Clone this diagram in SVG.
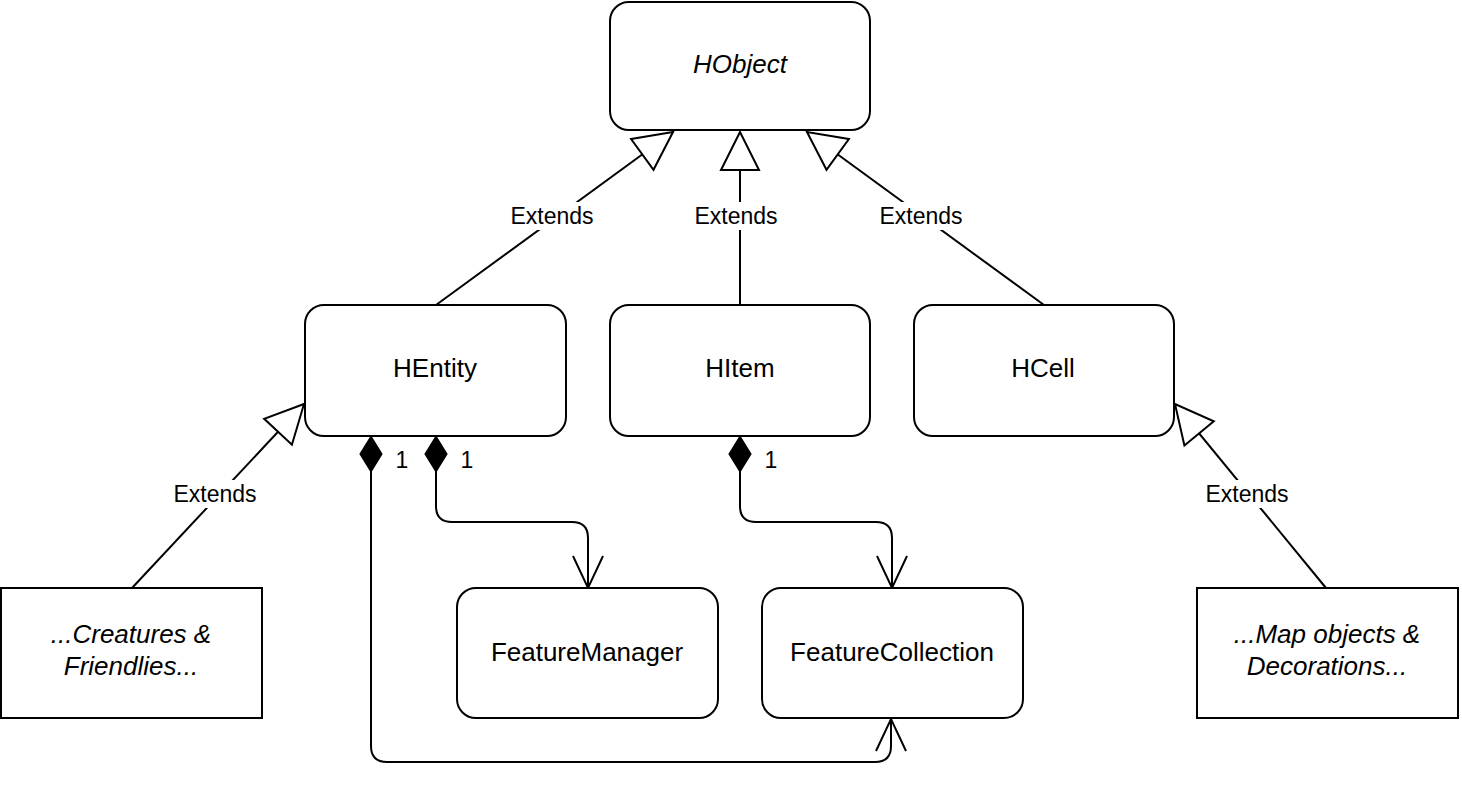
<svg xmlns="http://www.w3.org/2000/svg" width="1462" height="805" viewBox="0 0 1462 805">
<defs>
<style>
.node{fill:#fff;stroke:#000;stroke-width:2}
.t{font-family:"Liberation Sans",Arial,Helvetica,sans-serif;font-size:26px;fill:#000;text-anchor:middle;dominant-baseline:central}
.i{font-style:italic}
.e{fill:none;stroke:#000;stroke-width:2}
.lbl{font-family:"Liberation Sans",Arial,Helvetica,sans-serif;font-size:23px;fill:#000;text-anchor:middle;dominant-baseline:central}
.bg{fill:#fff}
.tri{fill:#fff;stroke:#000;stroke-width:2}
.dia{fill:#000;stroke:#000;stroke-width:2}
</style>
<marker id="ext" markerUnits="userSpaceOnUse" markerWidth="44" markerHeight="44" refX="40" refY="20" orient="auto" viewBox="0 0 44 40">
<path d="M40,20 L2,1 L2,39 Z" class="tri"/>
</marker>
<marker id="dia" markerUnits="userSpaceOnUse" markerWidth="40" markerHeight="26" refX="1" refY="12" orient="auto" viewBox="0 0 40 24">
<path d="M1,12 L18,1.5 L35,12 L18,22.5 Z" class="dia"/>
</marker>
<marker id="open" markerUnits="userSpaceOnUse" markerWidth="40" markerHeight="40" refX="34" refY="18" orient="auto" viewBox="0 0 40 36">
<path d="M2,3 L34,18 L2,33" fill="none" stroke="#000" stroke-width="2"/>
</marker>
</defs>

<g id="connectors">
<path class="e" d="M436,305 L673,132" marker-end="url(#ext)"/>
<path class="e" d="M740,305 L740,132" marker-end="url(#ext)"/>
<path class="e" d="M1044,305 L807,132" marker-end="url(#ext)"/>
<path class="e" d="M132,588 L304,404" marker-end="url(#ext)"/>
<path class="e" d="M1326,588 L1175,404" marker-end="url(#ext)"/>
<path class="e" d="M371,437 L371,746 Q371,762 387,762 L875,762 Q891,762 891,746 L891,719" marker-start="url(#dia)" marker-end="url(#open)"/>
<path class="e" d="M436,437 L436,506 Q436,522 452,522 L572,522 Q588,522 588,538 L588,588" marker-start="url(#dia)" marker-end="url(#open)"/>
<path class="e" d="M740,437 L740,506 Q740,522 756,522 L876,522 Q892,522 892,538 L892,588" marker-start="url(#dia)" marker-end="url(#open)"/>
<rect class="bg" x="509" y="202" width="86" height="28"/>
<text class="lbl" x="552" y="216">Extends</text>
<rect class="bg" x="693" y="202" width="86" height="28"/>
<text class="lbl" x="736" y="216">Extends</text>
<rect class="bg" x="878" y="202" width="86" height="28"/>
<text class="lbl" x="921" y="216">Extends</text>
<rect class="bg" x="172" y="480" width="86" height="28"/>
<text class="lbl" x="215" y="494">Extends</text>
<rect class="bg" x="1204" y="480" width="86" height="28"/>
<text class="lbl" x="1247" y="494">Extends</text>
<text class="lbl" x="402" y="460">1</text>
<text class="lbl" x="467" y="460">1</text>
<text class="lbl" x="771" y="460">1</text>
</g>

<g id="HObject"><rect class="node" x="610" y="2" width="260" height="128" rx="19"/><text class="t i" x="740" y="64">HObject</text></g>
<g id="HEntity"><rect class="node" x="305" y="305" width="261" height="131" rx="19"/><text class="t" x="435" y="368">HEntity</text></g>
<g id="HItem"><rect class="node" x="610" y="305" width="260" height="131" rx="19"/><text class="t" x="740" y="368">HItem</text></g>
<g id="HCell"><rect class="node" x="914" y="305" width="260" height="131" rx="19"/><text class="t" x="1043" y="368">HCell</text></g>
<g id="Creatures"><rect class="node" x="1" y="588" width="261" height="130"/><text class="t i" x="131" y="634">...Creatures &amp;</text><text class="t i" x="131" y="666">Friendlies...</text></g>
<g id="FeatureManager"><rect class="node" x="457" y="588" width="261" height="130" rx="19"/><text class="t" x="587" y="652">FeatureManager</text></g>
<g id="FeatureCollection"><rect class="node" x="762" y="588" width="261" height="130" rx="19"/><text class="t" x="892" y="652">FeatureCollection</text></g>
<g id="MapObjects"><rect class="node" x="1197" y="588" width="261" height="130"/><text class="t i" x="1327" y="634">...Map objects &amp;</text><text class="t i" x="1327" y="666">Decorations...</text></g>
</svg>
